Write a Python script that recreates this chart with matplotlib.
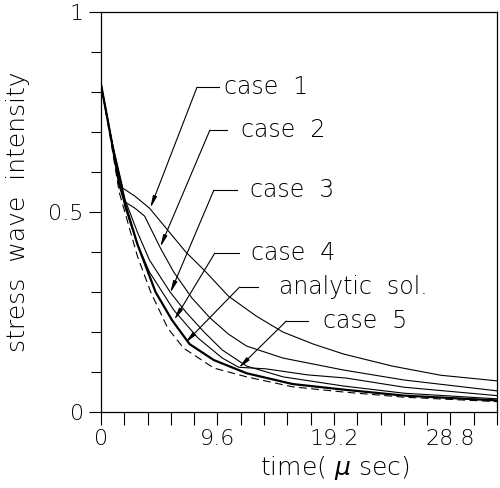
import matplotlib
matplotlib.use('Agg')
import numpy as np
from matplotlib import pyplot as plt
from matplotlib.ticker import MultipleLocator, FixedLocator

# curves (time in micro sec, stress wave intensity)
t_case1 = [0, 0.8, 1.8, 2.8, 4.0, 5.5, 7.0, 8.5, 10.5, 12.8, 15, 17.5, 20, 24, 28, 32.64]
y_case1 = [0.82, 0.69, 0.56, 0.54, 0.51, 0.455, 0.40, 0.355, 0.29, 0.24, 0.20, 0.17, 0.145, 0.115, 0.092, 0.078]

t_case2 = [0, 1.0, 2.0, 2.8, 3.6, 4.9, 6.0, 7.5, 9.0, 10.5, 12, 15, 20, 25, 32.64]
y_case2 = [0.82, 0.66, 0.525, 0.51, 0.49, 0.41, 0.35, 0.285, 0.235, 0.195, 0.165, 0.135, 0.105, 0.08, 0.053]

t_case3 = [0, 1, 2, 3, 4, 5.7, 7, 8.5, 10, 12, 15, 20, 25, 32.64]
y_case3 = [0.82, 0.66, 0.53, 0.45, 0.38, 0.30, 0.25, 0.20, 0.155, 0.115, 0.088, 0.065, 0.047, 0.033]

t_case4 = [0, 0.8, 1.5, 3, 4.5, 5.85, 7.3, 9.3, 12, 15.8, 20, 25, 32.64]
y_case4 = [0.82, 0.69, 0.57, 0.42, 0.30, 0.23, 0.17, 0.13, 0.097, 0.07, 0.056, 0.041, 0.029]

t_case5 = [0, 1, 2, 3, 4, 6, 8, 10, 11.35, 13.6, 17, 20.2, 25, 32.64]
y_case5 = [0.82, 0.66, 0.51, 0.42, 0.35, 0.255, 0.185, 0.135, 0.112, 0.108, 0.093, 0.085, 0.062, 0.041]

t_exact = [0, 0.8, 1.5, 3, 4.1, 5.5, 6.8, 9.3, 12, 15.8, 20, 25, 32.64]
y_exact = [0.82, 0.68, 0.55, 0.39, 0.30, 0.21, 0.16, 0.11, 0.088, 0.063, 0.05, 0.037, 0.026]

# label text, (corner of leader), end of horizontal stroke, text start, arrow tip
labels = ['case  1', 'case  2', 'case  3', 'case  4', 'analytic  sol.', 'case  5']
corner = [(7.91, 0.8125), (8.97, 0.705), (9.3, 0.555), (9.38, 0.3975), (11.42, 0.3125), (15.27, 0.2275)]
hor_end = [9.71, 10.36, 11.18, 11.34, 12.98, 17.07]
text_x = [10.1, 11.5, 12.24, 12.4, 14.7, 18.3]
tips = [(4.06, 0.51), (4.88, 0.4125), (5.7, 0.2975), (6.03, 0.23), (6.93, 0.1725), (11.34, 0.11)]

plt.rcParams['font.family'] = ['DejaVu Sans']
plt.rcParams['font.weight'] = 'light'

fig = plt.figure(figsize=(5.0, 4.88), dpi=100)
ax = fig.add_axes([0.202, 0.1557, 0.792, 0.819])

ax.plot(t_case1, y_case1, color='k', lw=0.8)
ax.plot(t_case2, y_case2, color='k', lw=0.8)
ax.plot(t_case3, y_case3, color='k', lw=0.8)
ax.plot(t_case4, y_case4, color='k', lw=1.6)
ax.plot(t_case5, y_case5, color='k', lw=0.8)
ax.plot(t_exact, y_exact, color='k', lw=0.8, dashes=(7, 4))

for lab, c, he, tx, tip in zip(labels, corner, hor_end, text_x, tips):
    ax.plot([c[0], he], [c[1], c[1]], color='k', lw=0.8)
    ax.annotate('', xy=tip, xytext=c,
                arrowprops=dict(arrowstyle='-|>,head_length=0.7,head_width=0.12',
                                lw=0.8, color='k', shrinkA=0, shrinkB=0))
    ax.text(tx, c[1], lab, fontsize=17, va='center', ha='left', fontweight='light')

ax.set_xlim(0, 32.64)
ax.set_ylim(0, 1)
ax.xaxis.set_major_locator(FixedLocator([0, 9.6, 19.2, 28.8]))
ax.xaxis.set_minor_locator(MultipleLocator(1.92))
ax.yaxis.set_major_locator(FixedLocator([0, 0.5, 1]))
ax.yaxis.set_minor_locator(MultipleLocator(0.1))
ax.set_xticklabels(['0', '9.6', '19.2', '28.8'], fontweight='light')
ax.set_yticklabels(['0', '0.5', '1'], fontweight='light')
ax.tick_params(which='both', direction='out', width=0.8, labelsize=16)
ax.tick_params(which='major', length=9)
ax.tick_params(which='minor', length=7)
ax.tick_params(axis='x', which='minor', length=9)
for s in ax.spines.values():
    s.set_linewidth(0.9)

ax.set_xlabel('time( $\\mu$ sec)', fontsize=18, fontweight='light')
ax.xaxis.set_label_coords(0.59, -0.105)
ax.set_ylabel('stress  wave  intensity', fontsize=18, fontweight='light')
ax.yaxis.set_label_coords(-0.18, 0.5)

fig.savefig('out.png', dpi=100)
